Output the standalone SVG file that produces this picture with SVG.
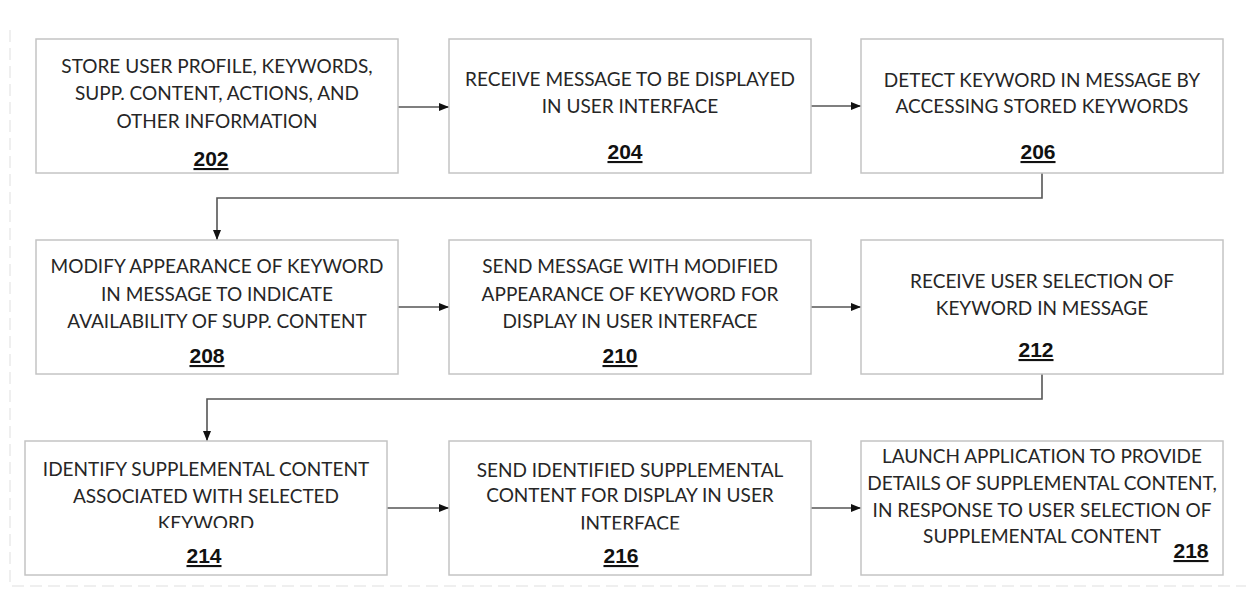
<svg xmlns="http://www.w3.org/2000/svg" width="1246" height="596" viewBox="0 0 1246 596">
<defs>
<style>
.box{fill:#fff;stroke:#c4c4c4;stroke-width:1.5}
.t{font-family:Lato,"Open Sans","Liberation Sans",sans-serif;font-size:19px;fill:#262626;text-anchor:middle}
.n{font-family:"Liberation Sans",Arial,sans-serif;font-size:21px;font-weight:bold;fill:#111;text-anchor:middle;text-decoration:underline}
.c{fill:none;stroke:#555;stroke-width:1.6}
.edge{fill:none;stroke:#efefef;stroke-width:2;stroke-dasharray:12 6}
</style>
<marker id="ah" viewBox="0 0 10 10" refX="10" refY="5" markerWidth="10" markerHeight="10" markerUnits="userSpaceOnUse" orient="auto">
<path d="M0,1 L10,5 L0,9 Z" fill="#111"/>
</marker>
<clipPath id="clip214"><rect x="25" y="440" width="362" height="88"/></clipPath>
<clipPath id="clip216"><rect x="449" y="440" width="362" height="89.5"/></clipPath>
</defs>
<rect width="1246" height="596" fill="#fff"/>
<path class="edge" d="M10,30 V586 H1246"/>

<g id="connectors">
<path class="c" d="M398,107 H449" marker-end="url(#ah)"/>
<path class="c" d="M809,106 H861" marker-end="url(#ah)"/>
<path class="c" d="M1042,173 V198 H217 V240" marker-end="url(#ah)"/>
<path class="c" d="M398,307 H449" marker-end="url(#ah)"/>
<path class="c" d="M811,307 H861" marker-end="url(#ah)"/>
<path class="c" d="M1042,374 V399 H207 V441" marker-end="url(#ah)"/>
<path class="c" d="M387,508 H449" marker-end="url(#ah)"/>
<path class="c" d="M811,508 H861" marker-end="url(#ah)"/>
</g>

<g id="n202">
<rect class="box" x="36" y="39" width="362" height="134"/>
<text class="t" x="217" y="73">STORE USER PROFILE, KEYWORDS,</text>
<text class="t" x="217" y="100">SUPP. CONTENT, ACTIONS, AND</text>
<text class="t" x="217" y="128">OTHER INFORMATION</text>
<text class="n" x="211" y="166">202</text>
</g>

<g id="n204">
<rect class="box" x="449" y="39" width="362" height="134"/>
<text class="t" x="630" y="86">RECEIVE MESSAGE TO BE DISPLAYED</text>
<text class="t" x="630" y="113">IN USER INTERFACE</text>
<text class="n" x="625" y="159">204</text>
</g>

<g id="n206">
<rect class="box" x="861" y="39" width="362" height="134"/>
<text class="t" x="1042" y="87">DETECT KEYWORD IN MESSAGE BY</text>
<text class="t" x="1042" y="113">ACCESSING STORED KEYWORDS</text>
<text class="n" x="1038" y="159">206</text>
</g>

<g id="n208">
<rect class="box" x="36" y="240" width="362" height="134"/>
<text class="t" x="217" y="273">MODIFY APPEARANCE OF KEYWORD</text>
<text class="t" x="217" y="301">IN MESSAGE TO INDICATE</text>
<text class="t" x="217" y="328">AVAILABILITY OF SUPP. CONTENT</text>
<text class="n" x="207" y="363">208</text>
</g>

<g id="n210">
<rect class="box" x="449" y="240" width="362" height="134"/>
<text class="t" x="630" y="273">SEND MESSAGE WITH MODIFIED</text>
<text class="t" x="630" y="301">APPEARANCE OF KEYWORD FOR</text>
<text class="t" x="630" y="328">DISPLAY IN USER INTERFACE</text>
<text class="n" x="620" y="363">210</text>
</g>

<g id="n212">
<rect class="box" x="861" y="240" width="362" height="134"/>
<text class="t" x="1042" y="288">RECEIVE USER SELECTION OF</text>
<text class="t" x="1042" y="315">KEYWORD IN MESSAGE</text>
<text class="n" x="1036" y="357">212</text>
</g>

<g id="n214">
<rect class="box" x="25" y="441" width="362" height="134"/>
<text class="t" x="206" y="476">IDENTIFY SUPPLEMENTAL CONTENT</text>
<text class="t" x="206" y="503">ASSOCIATED WITH SELECTED</text>
<text class="t" x="206" y="530" clip-path="url(#clip214)">KEYWORD</text>
<text class="n" x="204" y="563">214</text>
</g>

<g id="n216">
<rect class="box" x="449" y="441" width="362" height="134"/>
<text class="t" x="630" y="477">SEND IDENTIFIED SUPPLEMENTAL</text>
<text class="t" x="630" y="502">CONTENT FOR DISPLAY IN USER</text>
<text class="t" x="630" y="530" clip-path="url(#clip216)">INTERFACE</text>
<text class="n" x="621" y="563">216</text>
</g>

<g id="n218">
<rect class="box" x="861" y="441" width="362" height="134"/>
<text class="t" x="1042" y="463">LAUNCH APPLICATION TO PROVIDE</text>
<text class="t" x="1042" y="490">DETAILS OF SUPPLEMENTAL CONTENT,</text>
<text class="t" x="1042" y="517">IN RESPONSE TO USER SELECTION OF</text>
<text class="t" x="1042" y="543">SUPPLEMENTAL CONTENT</text>
<text class="n" x="1191" y="558">218</text>
</g>
</svg>
